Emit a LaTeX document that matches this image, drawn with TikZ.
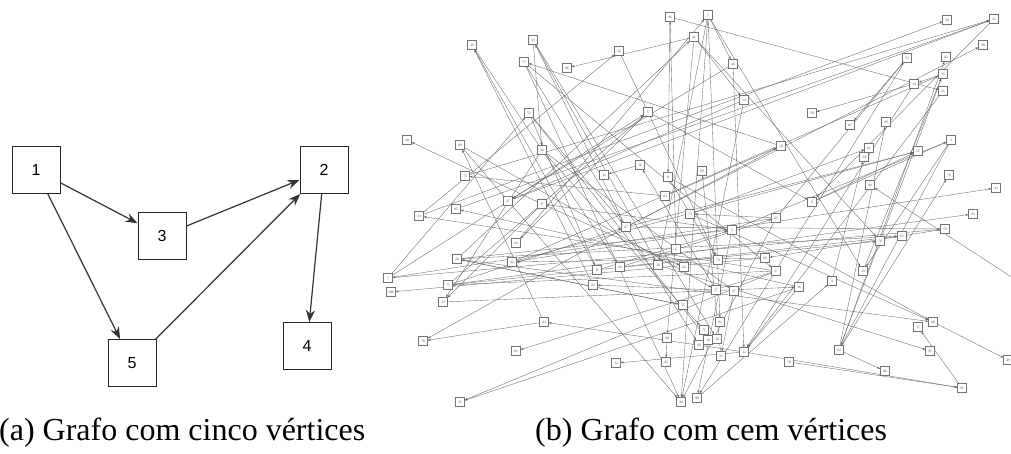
\documentclass[tikz,border=0pt]{standalone}
\usepackage{fontspec}
\setmainfont{Liberation Serif}
\newfontfamily\arialfont{Liberation Sans}
\usetikzlibrary{arrows.meta,backgrounds}
\begin{document}
\begin{tikzpicture}[x=1pt,y=-1pt,
  bigbox/.style={draw=black!85, line width=0.9pt, fill=white, minimum width=48pt,
    minimum height=47pt, inner sep=0pt, font=\arialfont\fontsize{16}{16}\selectfont},
  bigedge/.style={draw=black!80, line width=1.2pt, -{Stealth[length=12pt,width=9pt]}},
  tinybox/.style={draw=black!55, line width=0.4pt, fill=white, minimum width=9pt,
    minimum height=9pt, inner sep=0.4pt, font=\fontsize{3.5}{4}\selectfont, text=black!70},
  thinedge/.style={draw=black!60, line width=0.35pt, -{Stealth[length=3pt,width=2.2pt]}},
  caption/.style={font=\fontsize{32}{34}\selectfont, anchor=base west, inner sep=0pt}
]
\useasboundingbox (0,0) rectangle (1011,454);

% ---- (a) five-vertex graph ----
\node[bigbox] (a1) at (36,170) {1};
\node[bigbox] (a2) at (324,170) {2};
\node[bigbox] (a3) at (162,236) {3};
\node[bigbox] (a4) at (307,346) {4};
\node[bigbox] (a5) at (132,363) {5};
\draw[bigedge] (a1) -- (a3);
\draw[bigedge] (a1) -- (a5);
\draw[bigedge] (a3) -- (a2);
\draw[bigedge] (a5) -- (a2);
\draw[bigedge] (a2) -- (a4);

% ---- (b) hundred-vertex graph ----
\foreach \n/\x/\y in {
  39/472/45, 13/533/40, 72/524/62, 86/567/68, 52/529/113, 96/670/17, 7/708/15,
  41/694/37, 56/619/51, 46/733/64, 54/744/100, 5/648/112, 58/947/20, 21/994/19,
  38/983/45, 53/907/58, 82/946/57, 15/943/74, 14/914/84, 31/943/91, 50/812/113,
  87/850/125, 99/886/122, 2/951/140, 40/407/140, 89/460/145, 36/542/150,
  75/465/176, 47/508/201, 37/542/204, 23/419/216, 85/456/209, 94/516/243,
  28/457/259, 42/512/262, 26/640/165, 32/604/175, 8/668/177, 69/702/171,
  64/665/196, 73/690/214, 97/626/227, 3/732/230, 65/776/218, 6/676/249,
  74/718/260, 60/765/258, 11/597/270, 90/620/267, 18/658/265, 62/684/267,
  57/776/271, 20/781/146, 61/869/148, 25/918/151, 24/864/157, 79/949/175,
  98/870/185, 44/996/188, 9/812/202, 93/973/214, 59/945/229, 63/902/236,
  76/880/241, 19/863/271, 1/388/278, 77/448/285, 100/391/292, 29/443/302,
  84/593/285, 43/544/322, 78/423/341, 81/516/351, 35/460/402, 27/716/290,
  67/734/291, 16/799/287, 55/683/305, 92/720/322, 71/704/330, 48/667/338,
  10/708/340, 30/717/339, 66/699/345, 33/721/356, 12/744/352, 45/666/362,
  22/616/363, 70/789/362, 88/697/398, 34/681/402, 4/832/281, 68/933/322,
  17/918/327, 95/930/351, 83/839/350, 80/885/371, 49/1008/360, 91/962/388}
  \node[tinybox] (v\n) at (\x,\y) {\n};
\coordinate (offr) at (1013,278);

\begin{pgfonlayer}{background}
\foreach \a/\b in {
  11/39, 84/39, 39/90, 97/13, 13/18, 13/36, 13/30, 20/72, 41/86, 52/97, 1/52,
  52/11, 6/96, 96/8, 94/7, 7/46, 7/19, 7/34, 7/92, 7/18, 28/41, 41/76, 41/54,
  23/56, 56/74, 1/5, 77/5, 23/58, 75/21, 85/21, 47/21, 21/9, 97/38, 53/87,
  65/53, 83/82, 42/15, 83/15, 19/15, 15/14, 96/31, 14/50, 83/99, 37/40, 43/89,
  64/75, 46/47, 54/47, 3/37, 57/23, 16/85, 5/94, 55/28, 60/42, 64/20, 97/20,
  26/32, 27/26, 33/69, 65/73, 77/97, 28/3, 11/3, 90/65, 8/74, 59/60, 37/62,
  73/61, 42/25, 97/25, 9/25, 4/24, 83/79, 42/44, 5/9, 77/93, 97/59, 28/63,
  90/63, 2/19, 2/83, 3/2, 9/2, 65/1, 57/77, 60/100, 36/29, 37/29, 12/43, 43/78,
  97/78, 57/81, 57/35, 16/35, 27/84, 89/27, 36/67, 16/12, 31/12, 14/12, 28/55,
  36/71, 41/48, 52/10, 72/66, 67/33, 48/45, 12/22, 70/91, 12/91, 3/88, 72/34,
  89/34, 54/34, 65/34, 88/4, 68/49, 8/68, 73/68, 28/68, 91/17, 18/95, 83/80,
  1/59, 77/76, 29/16, 72/57, 46/12, 53/88}
  \draw[thinedge] (v\a) -- (v\b);
\draw[thinedge] (offr) -- (v98);
\end{pgfonlayer}

% ---- captions ----
\node[caption] (capa) at (-1,440) {(a) Grafo com cinco vértices};
\node[caption] (capb) at (535,440) {(b) Grafo com cem vértices};
\end{tikzpicture}
\end{document}
